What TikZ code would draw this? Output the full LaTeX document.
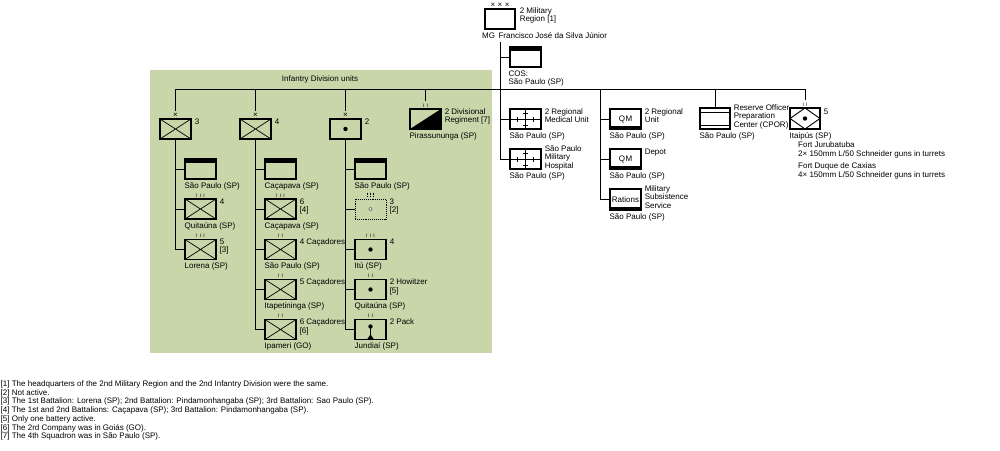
\documentclass[tikz,border=0pt]{standalone}
\usepackage{fontspec}
\setmainfont{Liberation Sans}
\usetikzlibrary{positioning}
\definecolor{divgreen}{RGB}{200,214,170}
\tikzset{
  conn/.style={line width=1pt},
  lbl/.style={inner sep=0pt, align=left, font=\fontsize{8}{8.5}\selectfont},
  side/.style={lbl, anchor=north west},
  ech/.style={inner sep=0.6pt, font=\fontsize{8}{8}\selectfont},
  echb/.style={inner sep=1.2pt, font=\fontsize{5}{5}\selectfont},
  unit/.style={draw, line width=1.1pt, minimum width=31pt, minimum height=20pt, inner sep=0pt},
  hqbox/.style={unit, path picture={\fill (path picture bounding box.north west) rectangle ([yshift=-3.5pt]path picture bounding box.north east);}},
  infbox/.style={unit, path picture={\draw[line width=.7pt] (path picture bounding box.north west) -- (path picture bounding box.south east)
      (path picture bounding box.south west) -- (path picture bounding box.north east);}},
  artbox/.style={unit, path picture={\fill (path picture bounding box.center) circle (2.2pt);}},
  aabox/.style={unit, line width=.9pt, densely dotted, path picture={\fill[gray] (path picture bounding box.center) circle (2pt);
      \fill[white] (path picture bounding box.center) circle (.8pt);}},
  packbox/.style={unit, path picture={\fill ([yshift=3pt]path picture bounding box.center) circle (2.2pt);
      \draw[line width=1pt] ([yshift=3pt]path picture bounding box.center) -- ([yshift=4pt]path picture bounding box.south);
      \fill ([xshift=-3.5pt]path picture bounding box.south) -- ([yshift=5pt]path picture bounding box.south) -- ([xshift=3.5pt]path picture bounding box.south) -- cycle;}},
  cavbox/.style={unit, path picture={\fill (path picture bounding box.south west) -- (path picture bounding box.north east) -- (path picture bounding box.south east) -- cycle;}},
  medbox/.style={unit, path picture={\draw[line width=.8pt] (path picture bounding box.west) -- (path picture bounding box.east)
      (path picture bounding box.north) -- (path picture bounding box.south)
      ([xshift=-8pt,yshift=2.5pt]path picture bounding box.center) -- ++(0,5)
      ([xshift=8pt,yshift=2.5pt]path picture bounding box.center) -- ++(0,5)
      ([xshift=-2.5pt,yshift=6pt]path picture bounding box.center) -- ++(5,0)
      ([xshift=-2.5pt,yshift=-6pt]path picture bounding box.center) -- ++(5,0);}},
  qmbox/.style={unit, font=\fontsize{8}{8}\selectfont, path picture={\fill (path picture bounding box.south west) rectangle ([yshift=3.5pt]path picture bounding box.south east);}},
  tngbox/.style={unit, minimum width=30pt, path picture={\draw[line width=.9pt] ([yshift=-4pt]path picture bounding box.north west) -- ([yshift=-4pt]path picture bounding box.north east)
      ([yshift=4pt]path picture bounding box.south west) -- ([yshift=4pt]path picture bounding box.south east);}},
  fortbox/.style={unit, minimum width=30pt, path picture={\draw[line width=.9pt] (path picture bounding box.north) -- (path picture bounding box.east)
      -- (path picture bounding box.south) -- (path picture bounding box.west) -- cycle;
      \fill (path picture bounding box.center) circle (2.2pt);}}
}
\begin{document}
\begin{tikzpicture}[x=1pt,y=-1pt]
\useasboundingbox (0,0) rectangle (1000,450);
\fill[divgreen] (150,70) rectangle (492,353);
\node[lbl] (divtitle) at (320,79) {Infantry Division units};

% Region command
\node[unit, minimum width=30pt, label={[ech]above:×\kern2.5pt×\kern2.5pt×}] (mr) at (500,19) {};
\node[side] (mr-s) at ([xshift=4pt,yshift=1pt]mr.north east) {2 Military\\Region [1]};
\node[lbl, anchor=west] (mg) at (482,36) {MG\hspace{3.5pt}Francisco José da Silva Júnior};
\node[hqbox] (cos) at (525.5,57) {};
\node[side] (cos-b) at ([xshift=-1pt,yshift=-3pt]cos.south west) {COS:\\São Paulo (SP)};
\coordinate (rtrunk) at (500,42);
\coordinate (qtrunk) at (600,89);
\coordinate (bus) at (0,89);

% Infantry Division units
\node[infbox, label={[ech]above:×}] (b3) at (175.5,129) {};
\node[infbox, label={[ech]above:×}] (b4) at (255.5,129) {};
\node[artbox, label={[ech]above:×}] (b2) at (345.5,129) {};
\node[cavbox, label={[echb]above:I\kern2.2pt I}] (cav) at (425.5,119) {};

\node[hqbox] (hq3) at (200.5,169) {};
\node[infbox, label={[echb]above:I\kern2.2pt I\kern2.2pt I}] (r4) at (200.5,209) {};
\node[infbox, label={[echb]above:I\kern2.2pt I\kern2.2pt I}] (r5) at (200.5,249.5) {};

\node[hqbox] (hq4) at (280.5,169) {};
\node[infbox, label={[echb]above:I\kern2.2pt I\kern2.2pt I}] (r6) at (280.5,209) {};
\node[infbox, label={[echb]above:I\kern2.2pt I}] (c4) at (280.5,249.5) {};
\node[infbox, label={[echb]above:I\kern2.2pt I}] (c5) at (280.5,289.5) {};
\node[infbox, label={[echb]above:I\kern2.2pt I}] (c6) at (280.5,329.5) {};

\node[hqbox] (hq2) at (370.5,169) {};
\node[aabox] (aa3) at (370.5,209) {};
\node[artbox, label={[echb]above:I\kern2.2pt I\kern2.2pt I}] (a4) at (370.5,249.5) {};
\node[artbox, label={[echb]above:I\kern2.2pt I}] (h2) at (370.5,289.5) {};
\node[packbox, label={[echb]above:I\kern2.2pt I}] (p2) at (370.5,329.5) {};
\foreach \dx in {-3,0,3}
  \draw[line width=.9pt, densely dotted] ([xshift=\dx pt,yshift=6pt]aa3.north) -- ([xshift=\dx pt,yshift=2pt]aa3.north);

% Region services
\node[medbox] (med) at (525.5,119) {};
\node[medbox] (hosp) at (525.5,159) {};
\node[qmbox] (qm1) at (625.5,119) {Q\kern.6pt M};
\node[qmbox] (qm2) at (625.5,159) {Q\kern.6pt M};
\node[qmbox, minimum height=21pt] (rat) at (625.5,199.5) {Rations};
\node[tngbox, minimum height=21pt] (cpor) at (715,118.5) {};
\node[fortbox, minimum height=21pt, label={[echb]above:I\kern2.2pt I}] (fort) at (805,118.5) {};

% Connectors
\draw[conn] (b3.north |- bus) -- (fort.north |- bus);
\foreach \n in {b3,b4,b2} \draw[conn] (\n.north |- bus) -- ([yshift=7.5pt]\n.north);
\foreach \n in {cav,fort} \draw[conn] (\n.north |- bus) -- ([yshift=7pt]\n.north);
\draw[conn] (cpor.north |- bus) -- (cpor.north);
\draw[conn] (b3.south) -- (b3.south |- r5.west) -- (r5.west);
\foreach \n in {hq3,r4} \draw[conn] (b3.south |- \n.west) -- (\n.west);
\draw[conn] (b4.south) -- (b4.south |- c6.west) -- (c6.west);
\foreach \n in {hq4,r6,c4,c5} \draw[conn] (b4.south |- \n.west) -- (\n.west);
\draw[conn] (b2.south) -- (b2.south |- p2.west) -- (p2.west);
\foreach \n in {hq2,aa3,a4,h2} \draw[conn] (b2.south |- \n.west) -- (\n.west);
\draw[conn] (rtrunk) -- (rtrunk |- hosp.west) -- (hosp.west);
\foreach \n in {cos,med} \draw[conn] (rtrunk |- \n.west) -- (\n.west);
\draw[conn] (qtrunk) -- (qtrunk |- rat.west) -- (rat.west);
\foreach \n in {qm1,qm2} \draw[conn] (qtrunk |- \n.west) -- (\n.west);

% Labels beside the boxes
\foreach \n/\dy/\t in {b3/0/3, b4/0/4, b2/0/2, cav/0/{2 Divisional\\Regiment [7]},
    r4/0/4, r5/0/{5\\{}[3]}, r6/0/{6\\{}[4]}, c4/0/4 Caçadores, c5/0/5 Caçadores, c6/0/{6 Caçadores\\{}[6]},
    aa3/0/{3\\{}[2]}, a4/0/4, h2/0/{2 Howitzer\\{}[5]}, p2/0/2 Pack,
    med/0/{2 Regional\\Medical Unit}, hosp/3/{São Paulo\\Military\\Hospital},
    qm1/0/{2 Regional\\Unit}, qm2/0/Depot, rat/3/{Military\\Subsistence\\Service},
    cpor/3/{Reserve Officer\\Preparation\\Center (CPOR)}, fort/-1/5}
  \node[side, font=\fontsize{8}{8.3}\selectfont] (\n-s) at ([xshift=3pt,yshift=\dy pt]\n.north east) {\t};

% Locations under the boxes
\foreach \n/\t in {hq3/São Paulo (SP), r4/Quitaúna (SP), r5/Lorena (SP),
    hq4/Caçapava (SP), r6/Caçapava (SP), c4/São Paulo (SP), c5/Itapetininga (SP), c6/Ipameri (GO),
    hq2/São Paulo (SP), a4/Itú (SP), h2/Quitaúna (SP), p2/Jundiaí (SP), cav/Pirassununga (SP),
    med/São Paulo (SP), hosp/São Paulo (SP), qm1/São Paulo (SP), qm2/São Paulo (SP), rat/São Paulo (SP),
    cpor/São Paulo (SP), fort/Itaipús (SP)}
  \node[side] (\n-b) at ([yshift=-2.5pt]\n.south west) {\t};

\node[side, font=\fontsize{8}{9}\selectfont] (fort-d) at (798,141) {Fort Jurubatuba\\2× 150mm L/50 Schneider guns in turrets\\[3pt]Fort Duque de Caxias\\4× 150mm L/50 Schneider guns in turrets};

% Notes
\node[side, font=\fontsize{8}{8.7}\selectfont] (notes) at (0.5,380.5) {[1] The headquarters of the 2nd Military Region and the 2nd Infantry Division were the same.\\
{}[2] Not active.\\
{}[3] The 1st Battalion: Lorena (SP); 2nd Battalion: Pindamonhangaba (SP); 3rd Battalion: Sao Paulo (SP).\\
{}[4] The 1st and 2nd Battalions: Caçapava (SP); 3rd Battalion: Pindamonhangaba (SP).\\
{}[5] Only one battery active.\\
{}[6] The 2rd Company was in Goiás (GO).\\
{}[7] The 4th Squadron was in São Paulo (SP).};
\end{tikzpicture}
\end{document}
